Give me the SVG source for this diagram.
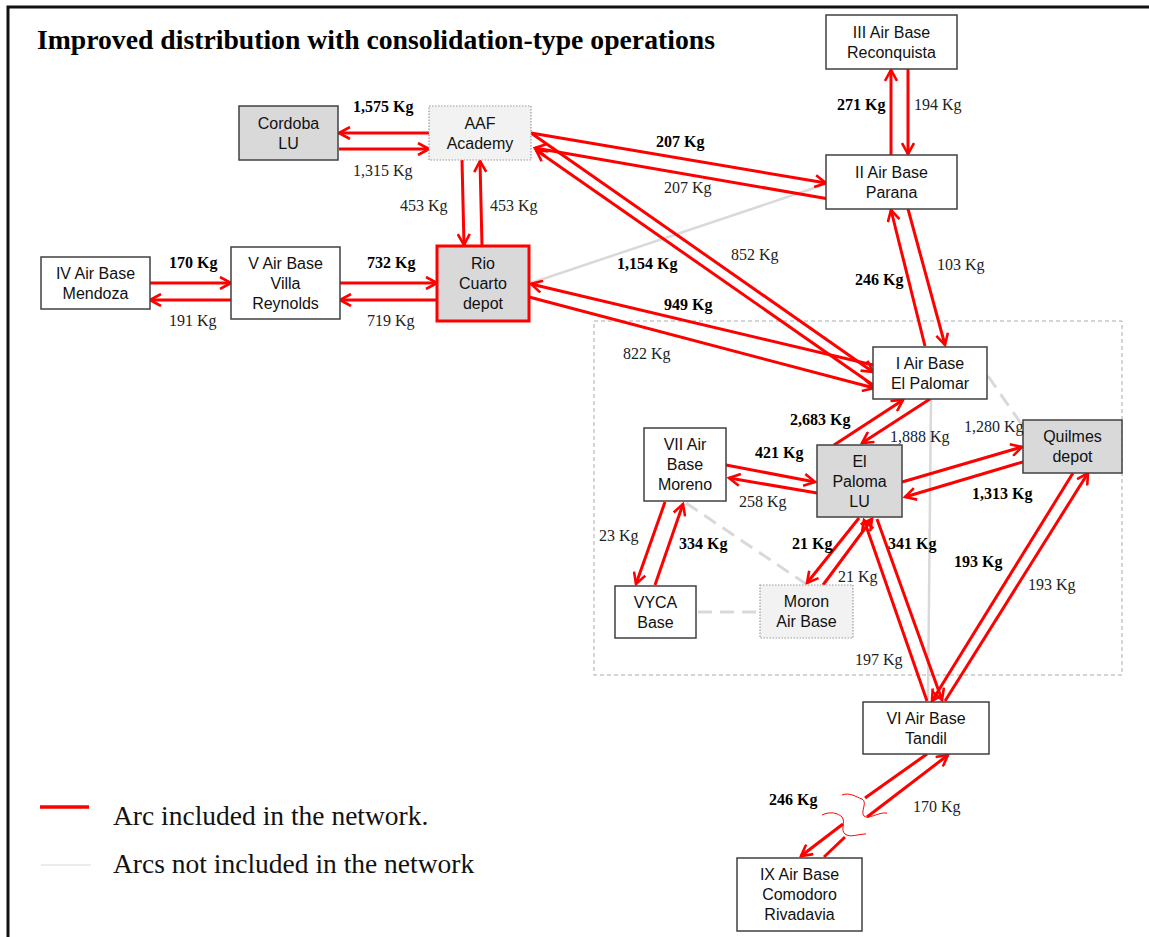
<svg xmlns="http://www.w3.org/2000/svg" width="1149" height="937" viewBox="0 0 1149 937">
<style>
.box{fill:#ffffff;stroke:#404040;stroke-width:1.5}
.gray{fill:#d9d9d9}
.light{fill:#f2f2f2;stroke:#9a9a9a;stroke-dasharray:1.5,1.5;stroke-width:1.2}
.n{font-family:"Liberation Sans",Arial,sans-serif;font-size:16px;text-anchor:middle;fill:#111}
.l{font-family:"Liberation Serif","Times New Roman",serif;font-size:16px;fill:#222}
.b{font-weight:bold;fill:#000}
.arc{fill:none;stroke:#ff0000;stroke-width:3;marker-end:url(#ah)}
.seg{fill:none;stroke:#ff0000;stroke-width:3}
.wave{fill:none;stroke:#ff0000;stroke-width:1}
.na{fill:none;stroke:#d9d9d9;stroke-width:2.5}
.nad{fill:none;stroke:#d9d9d9;stroke-width:3;stroke-dasharray:14,8}
.lg{font-family:"Liberation Serif","Times New Roman",serif;font-size:27.5px;fill:#111}
</style>
<defs>
<marker id="ah" viewBox="0 0 14 14" refX="12" refY="7" markerWidth="14" markerHeight="14" markerUnits="userSpaceOnUse" orient="auto">
<path d="M1,1 L12,7 L1,13" fill="none" stroke="#ff0000" stroke-width="2.6"/>
</marker>
</defs>
<rect width="1149" height="937" fill="#ffffff"/>
<path d="M8,937 L8,7 L1149,7" fill="none" stroke="#111" stroke-width="3"/>
<text x="37" y="49" font-family="'Liberation Serif','Times New Roman',serif" font-size="27.7" font-weight="bold" fill="#000">Improved distribution with consolidation-type operations</text>

<rect x="594" y="321" width="528" height="354" fill="none" stroke="#aaaaaa" stroke-width="1" stroke-dasharray="4,3"/>

<g id="connectors">
<g id="not-included">
<path class="na" d="M826,184 L531,283"/>
<path class="na" d="M931,399 L928,700"/>
<path class="nad" stroke-dasharray="9,6" d="M988,376 L1022,425"/>
<path class="nad" d="M686,503 L806,584"/>
<path class="nad" d="M698,612 L760,612"/>
</g>
<g id="included">
<path class="arc" d="M429,133 L339,133"/>
<path class="arc" d="M339,149 L429,149"/>
<path class="arc" d="M462,160 L464,245"/>
<path class="arc" d="M482,246 L480,161"/>
<path class="arc" d="M150,283 L231,283"/>
<path class="arc" d="M231,300 L150,300"/>
<path class="arc" d="M340,283 L437,283"/>
<path class="arc" d="M437,300 L340,300"/>
<path class="arc" d="M531,133 L826,183"/>
<path class="arc" d="M829,199 L535,148"/>
<path class="arc" d="M891,155 L891,70"/>
<path class="arc" d="M908,69 L908,154"/>
<path class="arc" d="M531,133 L873,372"/>
<path class="arc" d="M873,385 L536,150"/>
<path class="arc" d="M873,365 L531,284"/>
<path class="arc" d="M529,297 L874,388"/>
<path class="arc" d="M908,209 L945,345"/>
<path class="arc" d="M925,346 L891,210"/>
<path class="arc" d="M834,445 L903,400"/>
<path class="arc" d="M930,399 L862,443"/>
<path class="arc" d="M902,482 L1022,447"/>
<path class="arc" d="M1026,461 L905,497"/>
<path class="arc" d="M726,465 L815,482"/>
<path class="arc" d="M817,493 L729,478"/>
<path class="arc" d="M665,502 L636,584"/>
<path class="arc" d="M655,585 L683,504"/>
<path class="arc" d="M859,518 L807,583"/>
<path class="arc" d="M823,585 L872,519"/>
<path class="arc" d="M927,701 L864,520"/>
<path class="arc" d="M877,519 L942,700"/>
<path class="arc" d="M1073,473 L932,701"/>
<path class="arc" d="M945,701 L1088,473"/>
<path class="seg" d="M927,754 L865,798"/>
<path class="arc" d="M843,824 L801,856"/>
<path class="seg" d="M824,857 L845,837"/>
<path class="arc" d="M867,817 L948,755"/>
<path class="wave" d="M842,795 C850,792 856,797 862,799 C868,802 860,812 864,816 C868,820 878,812 887,813"/>
<path class="wave" d="M822,815 C830,811 838,813 842,817 C846,822 840,830 845,834 C850,838 858,834 866,834"/>
</g>
</g>

<g id="cordoba"><rect class="box gray" x="239" y="106" width="99" height="54"/><text class="n" x="288.5" y="128.7">Cordoba</text><text class="n" x="288.5" y="148.7">LU</text></g>
<g id="aaf"><rect class="light" x="429" y="106" width="102" height="54"/><text class="n" x="480" y="128.7">AAF</text><text class="n" x="480" y="148.7">Academy</text></g>
<g id="mendoza"><rect class="box" x="41" y="257" width="109" height="52"/><text class="n" x="95.5" y="278.7">IV Air Base</text><text class="n" x="95.5" y="298.7">Mendoza</text></g>
<g id="villa-reynolds"><rect class="box" x="231" y="247" width="109" height="72"/><text class="n" x="285.5" y="268.7">V Air Base</text><text class="n" x="285.5" y="288.7">Villa</text><text class="n" x="285.5" y="308.7">Reynolds</text></g>
<g id="rio-cuarto"><rect class="gray" x="437" y="246" width="92" height="75" stroke="#ff0000" stroke-width="3"/><text class="n" x="483" y="269.2">Rio</text><text class="n" x="483" y="289.2">Cuarto</text><text class="n" x="483" y="309.2">depot</text></g>
<g id="reconquista"><rect class="box" x="826" y="15" width="131" height="54"/><text class="n" x="891.5" y="37.7">III Air Base</text><text class="n" x="891.5" y="57.7">Reconquista</text></g>
<g id="parana"><rect class="box" x="826" y="155" width="131" height="54"/><text class="n" x="891.5" y="177.7">II Air Base</text><text class="n" x="891.5" y="197.7">Parana</text></g>
<g id="el-palomar"><rect class="box" x="873" y="347" width="114" height="52"/><text class="n" x="930" y="368.7">I Air Base</text><text class="n" x="930" y="388.7">El Palomar</text></g>
<g id="moreno"><rect class="box" x="644" y="428" width="82" height="73"/><text class="n" x="685" y="450.2">VII Air</text><text class="n" x="685" y="470.2">Base</text><text class="n" x="685" y="490.2">Moreno</text></g>
<g id="el-paloma"><rect class="box gray" x="817" y="445" width="85" height="72"/><text class="n" x="859.5" y="466.7">El</text><text class="n" x="859.5" y="486.7">Paloma</text><text class="n" x="859.5" y="506.7">LU</text></g>
<g id="quilmes"><rect class="box gray" x="1023" y="420" width="99" height="53" stroke="#666"/><text class="n" x="1072.5" y="442.2">Quilmes</text><text class="n" x="1072.5" y="462.2">depot</text></g>
<g id="vyca"><rect class="box" x="615" y="586" width="81" height="52"/><text class="n" x="655.5" y="607.7">VYCA</text><text class="n" x="655.5" y="627.7">Base</text></g>
<g id="moron"><rect class="light" x="760" y="585" width="93" height="53"/><text class="n" x="806.5" y="607.2">Moron</text><text class="n" x="806.5" y="627.2">Air Base</text></g>
<g id="tandil"><rect class="box" x="863" y="702" width="126" height="52"/><text class="n" x="926" y="723.7">VI Air Base</text><text class="n" x="926" y="743.7">Tandil</text></g>
<g id="comodoro"><rect class="box" x="737" y="858" width="125" height="73"/><text class="n" x="799.5" y="880.2">IX Air Base</text><text class="n" x="799.5" y="900.2">Comodoro</text><text class="n" x="799.5" y="920.2">Rivadavia</text></g>

<g id="labels">
<text class="l b" x="353" y="112">1,575 Kg</text>
<text class="l" x="353" y="176">1,315 Kg</text>
<text class="l" x="400" y="211">453 Kg</text>
<text class="l" x="490" y="211">453 Kg</text>
<text class="l b" x="169" y="268">170 Kg</text>
<text class="l" x="169" y="326">191 Kg</text>
<text class="l b" x="367" y="268">732 Kg</text>
<text class="l" x="367" y="326">719 Kg</text>
<text class="l b" x="656" y="147">207 Kg</text>
<text class="l" x="664" y="193">207 Kg</text>
<text class="l b" x="837" y="110">271 Kg</text>
<text class="l" x="914" y="110">194 Kg</text>
<text class="l b" x="855" y="285">246 Kg</text>
<text class="l" x="937" y="270">103 Kg</text>
<text class="l b" x="617" y="269">1,154 Kg</text>
<text class="l" x="731" y="260">852 Kg</text>
<text class="l b" x="664" y="310">949 Kg</text>
<text class="l" x="623" y="359">822 Kg</text>
<text class="l b" x="790" y="425">2,683 Kg</text>
<text class="l" x="890" y="442">1,888 Kg</text>
<text class="l" x="964" y="432">1,280 Kg</text>
<text class="l b" x="755" y="458">421 Kg</text>
<text class="l" x="739" y="507">258 Kg</text>
<text class="l b" x="972" y="499">1,313 Kg</text>
<text class="l" x="599" y="541">23 Kg</text>
<text class="l b" x="679" y="549">334 Kg</text>
<text class="l b" x="792" y="549">21 Kg</text>
<text class="l b" x="888" y="549">341 Kg</text>
<text class="l" x="838" y="582">21 Kg</text>
<text class="l b" x="954" y="567">193 Kg</text>
<text class="l" x="1028" y="590">193 Kg</text>
<text class="l" x="855" y="665">197 Kg</text>
<text class="l b" x="769" y="805">246 Kg</text>
<text class="l" x="913" y="812">170 Kg</text>
</g>

<g id="legend">
<line x1="40" y1="807" x2="89" y2="807" stroke="#ff0000" stroke-width="3.5"/>
<line x1="41" y1="865" x2="91" y2="865" stroke="#d9d9d9" stroke-width="1"/>
<text class="lg" x="113" y="825">Arc included in the network.</text>
<text class="lg" x="113" y="873">Arcs not included in the network</text>
</g>
</svg>
